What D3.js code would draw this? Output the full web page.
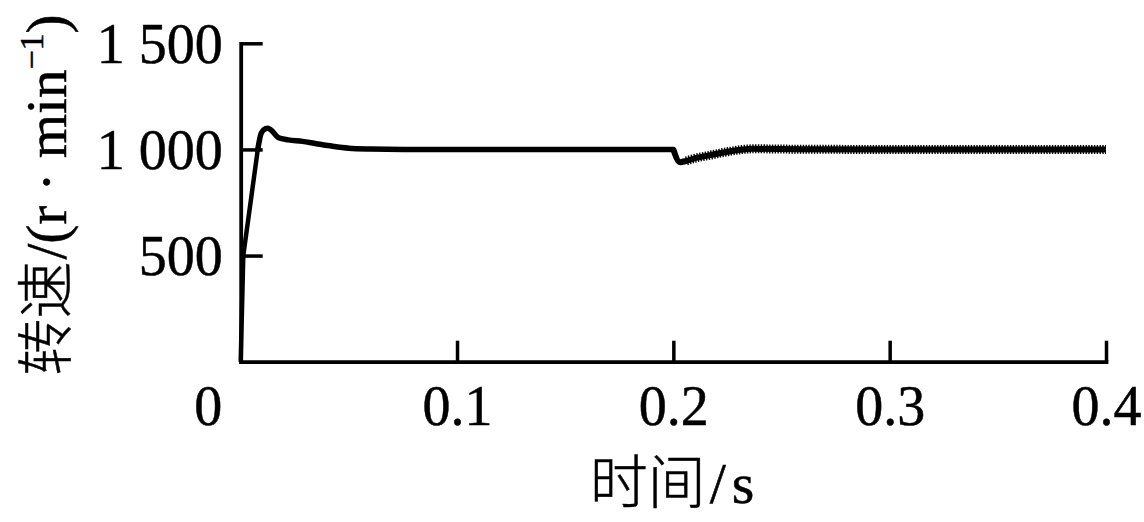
<!DOCTYPE html>
<html>
<head>
<meta charset="utf-8">
<script src="https://cdn.jsdelivr.net/npm/d3@7/dist/d3.min.js"></script>
<style>
  html, body { margin: 0; padding: 0; background: #fff; }
  svg { display: block; }
  text { font-family: "Liberation Serif", "Times New Roman", "Noto Sans CJK SC", serif; fill: #000; stroke: #000; stroke-width: 0.5; }
</style>
</head>
<body>
<svg id="chart" width="1144" height="522"></svg>
<script>
// ---- data ----
const xTicks = [0, 0.1, 0.2, 0.3, 0.4];
const yTicks = [500, 1000, 1500];
const xTickLabels = ["0", "0.1", "0.2", "0.3", "0.4"];
const yTickLabels = ["500", "1 000", "1 500"];

// start-up phase (t in s, speed in r/min)
const startTime  = [0, 0.0012, 0.0079, 0.0095, 0.0115, 0.0125, 0.0140, 0.0175, 0.0220, 0.0285, 0.0350, 0.0425, 0.0500, 0.0600, 0.0750, 0.1000, 0.1500, 0.2000];
const startSpeed = [0, 500,    1000,   1077,   1098,   1100,   1092,   1055,   1045,   1038,   1027,   1015,   1006,   1002,   1000,   1000,   1000,   1000];
// after load step at 0.2 s
const loadTime  = [0.2000, 0.2031, 0.2060, 0.2091, 0.2170, 0.2249, 0.2369, 0.2585, 0.3000, 0.3500, 0.4000];
const loadSpeed = [1000,   940,    946,    956,    973,    989,    1003,   1001,   1000,   1000,   1000];

const xLabel = ["时间", "/s"];
const yLabel = ["转速", "/(r · min", "−1", ")"];

// ---- layout ----
const svg = d3.select("#chart");
const x = d3.scaleLinear().domain([0, 0.4]).range([240.7, 1106]);
const y = d3.scaleLinear().domain([0, 1500]).range([361.7, 43.3]);
const FS = 56;

// axes
const gx = svg.append("g").attr("transform", `translate(0,${y(0)})`)
  .call(d3.axisBottom(x).tickValues(xTicks).tickSizeInner(-21).tickSizeOuter(0)
    .tickPadding(23.5).tickFormat((d, i) => xTickLabels[i]));
const gy = svg.append("g").attr("transform", `translate(${x(0)},0)`)
  .call(d3.axisLeft(y).tickValues(yTicks).tickSizeInner(-22).tickSizeOuter(0)
    .tickPadding(18).tickFormat((d, i) => yTickLabels[i]));

[gx, gy].forEach(g => {
  g.selectAll("path.domain").attr("stroke", "#000").attr("stroke-width", 3.8).attr("stroke-linecap", "square");
  g.selectAll(".tick line").attr("stroke", "#000").attr("stroke-width", 3.5);
  g.selectAll(".tick text").attr("font-size", FS).attr("font-family", null);
});
gy.selectAll(".tick text").attr("dy", "0.34em");
gx.selectAll(".tick").filter(d => d === 0).select("text").attr("x", -33);
gx.selectAll(".tick").filter(d => d === 0).select("line").remove();

// lines
const line = d3.line().x(d => x(d[0])).y(d => y(d[1])).curve(d3.curveMonotoneX);
const straight = d3.line().x(d => x(d[0])).y(d => y(d[1]));
const startData = startTime.map((t, i) => [t, startSpeed[i]]);
const loadData = loadTime.map((t, i) => [t, loadSpeed[i]]);

svg.append("path").datum(startData.slice(0, 3)).attr("d", straight)
  .attr("fill", "none").attr("stroke", "#000").attr("stroke-width", 4.5).attr("stroke-linejoin", "round");
svg.append("path").datum(startData.slice(2)).attr("d", line)
  .attr("fill", "none").attr("stroke", "#000").attr("stroke-width", 5.5).attr("stroke-linejoin", "round").attr("stroke-linecap", "round");
svg.append("path").datum(loadData).attr("d", line)
  .attr("fill", "none").attr("stroke", "#000").attr("stroke-width", 6).attr("stroke-linejoin", "round");
// ripple texture on the loaded segment
svg.append("path").datum(loadData.slice(2)).attr("d", line)
  .attr("fill", "none").attr("stroke", "#000").attr("stroke-width", 9).attr("stroke-dasharray", "1.4 1.4");

// axis titles
const xt = svg.append("text").attr("x", 672).attr("y", 503).attr("text-anchor", "middle")
  .attr("font-size", 58);
xt.append("tspan").attr("font-family", "Noto Sans CJK SC").attr("font-weight", 300).text(xLabel[0]);
xt.append("tspan").attr("dx", 4).text(xLabel[1].slice(0, 1)).attr("letter-spacing", 6);
xt.append("tspan").text(xLabel[1].slice(1));

const yt = svg.append("text").attr("transform", "translate(66,195) rotate(-90)")
  .attr("text-anchor", "middle").attr("font-size", 57);
yt.append("tspan").attr("font-family", "Noto Sans CJK SC").attr("font-weight", 300).text(yLabel[0]);
yt.append("tspan").attr("dx", 2).text(yLabel[1]);
yt.append("tspan").attr("font-size", 34).attr("dy", -23).text(yLabel[2]);
yt.append("tspan").attr("dy", 23).text(yLabel[3]);
</script>
</body>
</html>
